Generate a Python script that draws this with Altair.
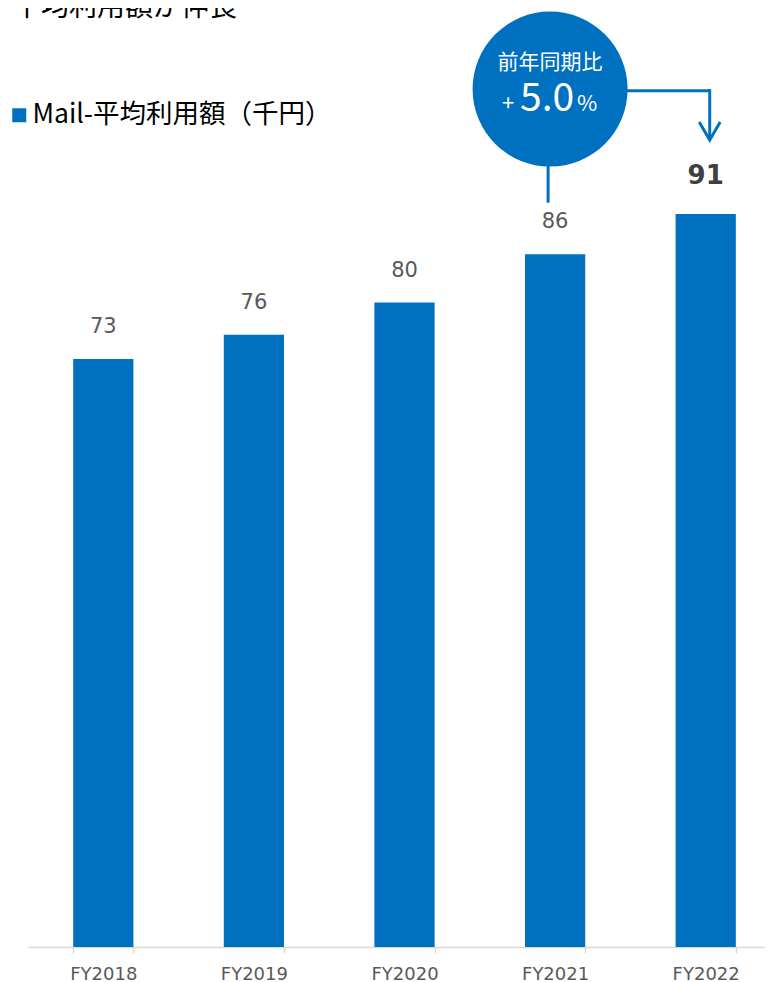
import altair as alt
import pandas as pd

# ---- data ----
years = ["FY2018", "FY2019", "FY2020", "FY2021", "FY2022"]
values = [73, 76, 80, 86, 91]
series_name = "Mail-平均利用額（千円）"
title_text = "平均利用額が伸長"
badge_title = "前年同期比"
badge_sign = "+"
badge_value = "5.0"
badge_unit = "%"

# annotation anchors (data units on the value axis)
badge_from = "FY2021"
badge_to = "FY2022"
badge_center_v = 106.5
badge_stem_end_v = 92.4
connector_v = 106.3
arrow_tip_v = 100.5
arrow_center_v = 101.3
badge_title_v = 109.7
badge_value_v = 103.8

BLUE = "#0070C0"
GRAY = "#595959"
DARK = "#404040"
JP = "Noto Sans CJK JP"
NUM = "DejaVu Sans"

df = pd.DataFrame({"year": years, "value": values, "series": [series_name] * len(years)})
df["emph"] = [y == years[-1] for y in years]

xscale = alt.Scale(domain=years, range=[0, 753], paddingInner=0.6, paddingOuter=0.3)
yscale = alt.Scale(domain=[0, 116.57], nice=False, zero=True)

X = alt.X("year:N", scale=xscale, sort=years,
          axis=alt.Axis(title=None, labelAngle=0, tickBand="extent", domainColor="#d9d9d9",
                        domainWidth=1.5, tickColor="#d9d9d9", tickWidth=1.5, tickSize=6,
                        labelFont=NUM, labelFontSize=18, labelColor=GRAY, labelPadding=26,
                        labelBaseline="alphabetic", grid=False))
Y = alt.Y("value:Q", scale=yscale, axis=None)

bars = alt.Chart(df).mark_bar(color=BLUE).encode(
    x=X, y=Y,
    color=alt.Color("series:N", scale=alt.Scale(domain=[series_name], range=[BLUE]),
                    legend=alt.Legend(title=None, orient="none", legendX=-22, legendY=94,
                                      symbolType="square", symbolSize=196, symbolStrokeWidth=0,
                                      labelFont=JP, labelFontSize=26.5, labelColor="#000000",
                                      labelOffset=0, padding=0, labelLimit=600)),
)

labels = alt.Chart(df).transform_filter("!datum.emph").mark_text(
    font=NUM, fontSize=21, color=GRAY, baseline="alphabetic", dy=-26
).encode(x=X, y=Y, text="value:Q")

label_last = alt.Chart(df).transform_filter("datum.emph").mark_text(
    font=NUM, fontSize=26, fontWeight="bold", color=DARK, baseline="alphabetic", dy=-30
).encode(x=X, y=Y, text="value:Q")

# ---- badge annotation ----
stem_df = pd.DataFrame({"year": [badge_from], "v1": [badge_center_v], "v2": [badge_stem_end_v]})
stem = alt.Chart(stem_df).mark_rule(color=BLUE, strokeWidth=3, xOffset=-7).encode(
    x=alt.X("year:N", scale=xscale, sort=years), y=alt.Y("v1:Q", scale=yscale), y2="v2:Q")

conn_df = pd.DataFrame({"year": [badge_from], "year2": [badge_to], "v": [connector_v]})
conn = alt.Chart(conn_df).mark_rule(color=BLUE, strokeWidth=3, xOffset=-5, x2Offset=5).encode(
    x=alt.X("year:N", scale=xscale, sort=years), x2="year2:N", y=alt.Y("v:Q", scale=yscale))

down_df = pd.DataFrame({"year": [badge_to], "v1": [connector_v + 0.2], "v2": [arrow_tip_v]})
down = alt.Chart(down_df).mark_rule(color=BLUE, strokeWidth=3, xOffset=4).encode(
    x=alt.X("year:N", scale=xscale, sort=years), y=alt.Y("v1:Q", scale=yscale), y2="v2:Q")

arrow_df = pd.DataFrame({"year": [badge_to], "v": [arrow_center_v]})
arrow = alt.Chart(arrow_df).mark_point(
    shape="M-1,-0.86L0,0.86L1,-0.86", size=441, filled=False, stroke=BLUE, strokeWidth=3,
    opacity=1, xOffset=4, strokeJoin="miter", strokeCap="butt"
).encode(x=alt.X("year:N", scale=xscale, sort=years), y=alt.Y("v:Q", scale=yscale))

circle_df = pd.DataFrame({"year": [badge_from], "v": [badge_center_v]})
circle = alt.Chart(circle_df).mark_point(
    shape="circle", size=155 * 155, filled=True, color=BLUE, opacity=1, xOffset=-5
).encode(x=alt.X("year:N", scale=xscale, sort=years), y=alt.Y("v:Q", scale=yscale))

bt_df = pd.DataFrame({"year": [badge_from], "v": [badge_title_v], "t": [badge_title]})
btitle = alt.Chart(bt_df).mark_text(font=JP, fontSize=21, color="white", baseline="middle",
                                    xOffset=-5).encode(
    x=alt.X("year:N", scale=xscale, sort=years), y=alt.Y("v:Q", scale=yscale), text="t:N")

bv_df = pd.DataFrame({"year": [badge_from], "v": [badge_value_v]})
bsign = alt.Chart(bv_df).mark_text(font=JP, fontSize=22, color="white", baseline="alphabetic",
                                   align="right", xOffset=-41, text=badge_sign).encode(
    x=alt.X("year:N", scale=xscale, sort=years), y=alt.Y("v:Q", scale=yscale))
bval = alt.Chart(bv_df).mark_text(font=JP, fontSize=39, color="white", baseline="alphabetic",
                                  align="center", xOffset=-8, text=badge_value).encode(
    x=alt.X("year:N", scale=xscale, sort=years), y=alt.Y("v:Q", scale=yscale))
bunit = alt.Chart(bv_df).mark_text(font=JP, fontSize=22, color="white", baseline="alphabetic",
                                   align="left", xOffset=22, text=badge_unit).encode(
    x=alt.X("year:N", scale=xscale, sort=years), y=alt.Y("v:Q", scale=yscale))

title_df = pd.DataFrame({"t": [title_text]})
title = alt.Chart(title_df).mark_text(font=JP, fontSize=28, color="#000000", align="left",
                                      baseline="alphabetic").encode(
    x=alt.value(-15), y=alt.value(8), text="t:N")

chart = alt.layer(
    bars, labels, label_last, stem, conn, down, arrow, circle, btitle, bsign, bval, bunit, title
).properties(
    width=737, height=939,
    padding={"left": 20, "top": 0, "right": 0, "bottom": 35},
    autosize=alt.AutoSizeParams(type="none"),
).configure_view(stroke=None)

chart.save("out.html", embed_options={"renderer": "svg", "actions": False})
